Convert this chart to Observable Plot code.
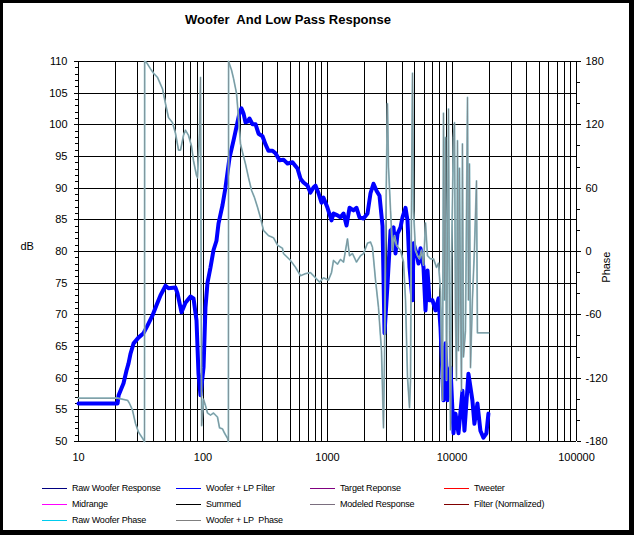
<!DOCTYPE html>
<html>
<head>
<meta charset="utf-8">
<script src="https://cdn.jsdelivr.net/npm/d3@7"></script>
<script src="https://cdn.jsdelivr.net/npm/@observablehq/plot@0.6"></script>
<style>
  body { margin: 0; background: #fff; font-family: "Liberation Sans", Arial, sans-serif; }
  #frame { position: absolute; left: 0; top: 0; width: 634px; height: 535px; box-sizing: border-box;
           border-style: solid; border-color: #000; border-width: 3px 5px 5px 3px; pointer-events: none; }
  #title { position: absolute; left: 0; top: 12px; width: 576px; text-align: center; font-weight: bold;
           font-size: 13px; line-height: 16px; white-space: pre; color: #000; }
  #chart { position: absolute; left: 0; top: 40px; }
  .leg-line { position: absolute; height: 1px; width: 25px; }
  .leg-text { position: absolute; font-size: 9px; line-height: 10px; color: #000; white-space: pre; letter-spacing: -0.2px; }
</style>
</head>
<body>
<div id="title"></div>
<div id="chart"></div>
<div id="legend"></div>
<div id="frame"></div>
<script>
// ---- Data ----
const titleText = "Woofer  And Low Pass Response";

// Woofer + LP Filter response: frequency (Hz) and level (dB)
const respFreq = [10, 20.6, 21, 23, 24.3, 25.2, 26.2, 27.7, 30.3, 33.3, 35.8, 39.3, 42.3, 45.6, 50, 52.8, 60.1, 62.4, 67.2, 72.3,
  79.4, 83.9, 88.7, 92, 95.5, 101, 104.7, 108.7, 114.9, 121.4, 128.3, 133.2, 143.4, 151.6, 163.3, 175.8, 189.3, 196.4, 203.8, 211.5,
  219.4, 227.7, 236.2, 249.8, 264.1, 279.3, 300.6, 317.8, 335.9, 361.6, 382.3, 411.4, 443.1, 477.2, 523.3, 574.1, 607, 641.7, 690.9, 730,
  772, 801, 847, 895, 929, 1000, 1077, 1117, 1203, 1271, 1345, 1422, 1503, 1618, 1710, 1808, 1946, 2096, 2215, 2341,
  2476, 2617, 2767, 2817, 2871, 3035, 3208, 3391, 3518, 3650, 3858, 4003, 4233, 4392, 4557, 4817, 4908, 5188, 5383, 5585,
  5904, 6126, 6356, 6595, 6971, 7369, 7790, 8082, 8543, 8865, 9198, 9723, 10278, 10664, 11272, 12133, 12590, 13552, 14587, 15136,
  16000, 16913, 17878, 18898, 19609];
const respDb = [56, 56, 57.3, 59.2, 61.2, 62.3, 63.9, 65.5, 66.4, 67.1, 68.3, 69.9, 71.5, 73.1, 74.6, 74.2, 74.3, 73.4, 70.4, 71.9,
  72.9, 72.6, 69.1, 60.7, 57.3, 61.7, 71.2, 75.1, 77.5, 80.2, 81.7, 84.4, 87.3, 90.1, 94.8, 97.5, 100.4, 101.9, 102.6, 101.8,
  100.4, 100.5, 101, 100.1, 100.1, 98.6, 98.2, 96.9, 95.9, 95.9, 95.5, 94.4, 94.5, 93.9, 94.1, 93.1, 91.5, 90.9, 90.4, 89.3,
  90.1, 90.4, 89.2, 87.7, 88.5, 86.9, 84.9, 86, 85.7, 85.4, 86, 84.1, 86.9, 86.5, 86.9, 85.4, 85.2, 86, 89.2, 90.7,
  89.6, 88.8, 84, 76, 67.1, 74.9, 83.3, 83.8, 79.7, 82.8, 83.8, 85.4, 86.9, 84.9, 77.5, 72.3, 81.3, 79.7, 78.1, 80.5,
  77.5, 70.7, 77, 72.3, 72.3, 70.7, 72.6, 68, 56.5, 65.5, 56.5, 61.7, 51.3, 54.4, 51.3, 58, 51.7, 60.7, 56.5, 52.8,
  56, 51.7, 50.6, 51.3, 54.4];

// Woofer + LP Phase: frequency (Hz) and phase (degrees)
const phaseFreq = [10, 20.6, 24.8, 25.7, 27.1, 28.7, 30.3, 32.7, 33.9, 34.0, 35.2, 37.9, 40, 43.1, 47.3, 50, 52.8, 56.9, 60.1, 63.6,
  66, 69.7, 72.3, 76.5, 80.8, 83.9, 88.7, 90.3, 93.7, 95.5, 97.5, 101, 104.7, 108.7, 114.9, 121.4, 130.8, 135.7, 143.4, 148.8,
  157.3, 160, 160.5, 169.4, 175.8, 185.8, 192.8, 200.1, 207.6, 219.4, 232, 245.3, 259.3, 274.1, 289.6, 306.1, 335.9, 368.5, 396.7, 435.1,
  443.3, 504.5, 553.4, 607, 665.8, 730, 801, 862.5, 929, 1019, 1077, 1117, 1203, 1271, 1345, 1447, 1502, 1588, 1710, 1842,
  1946, 2096, 2215, 2298, 2430, 2568, 2715, 2817, 2871, 2923, 2977, 3033, 3090, 3208, 3327, 3453, 3583, 3858, 4079, 4233,
  4392, 4557, 4642, 4729, 4817, 4908, 5091, 5283, 5483, 5689, 5904, 6126, 6356, 6718, 7103, 7510, 7790, 8082, 8389, 8543,
  8707, 8865, 9033, 9374, 9548, 9723, 9908, 10278, 10474, 10664, 10867, 11072, 11272, 11488, 11703, 11921, 12133, 12371, 12834, 13320,
  13552, 13822, 14079, 14587, 15136, 15735, 16000, 19645];
const phaseDeg = [-139, -139, -141, -144, -150, -163, -171, -177, -180, 180, 179, 173, 169, 165, 154, 140, 127, 122, 112, 96,
  96, 110, 115, 110, 100, 86, 72, 70, 112, 165, -165, -140, -146, -153, -155, -153, -157, -167, -168, -172,
  -177, -180, 180, 172, 164, 150, 127, 102, 94, 83, 70, 58, 51, 42, 32, 20, 15, 13, 6, 3,
  -2, -8.5, -15, -23, -21, -20, -25, -29, -25, -27, -20, -8.5, -12, -7.5, -10, 12, -4, -2, -10, -4,
  -2, 8, 9, 4, -27, -53, -94, -167, -100, -1, 77, 140, 80, 39, 1, 15, 6, 1, -10, -46,
  -119, -148, -122, 48, 169, 39, 1, -4, -7, 1, -13, 27, -4, -7, -7, -15, -11, -37, -141, 131,
  -46, 108, -122, 135, -75, -169, -9, 108, 122, -56, -122, 105, -94, 79, -46, -132, 102, -100, -75, 146,
  -46, 83, -110, -46, 1, 67, -77, -77];

// Axis ticks and labels
const dbMajor = [50, 55, 60, 65, 70, 75, 80, 85, 90, 95, 100, 105, 110];
const dbMinor = d3.range(50, 111, 1);
const phaseMajor = [-180, -120, -60, 0, 60, 120, 180];
const phaseMinor = d3.range(-180, 181, 20);
const decadeTicks = [10, 100, 1000, 10000, 100000];
const gridMultipliers = [1, 2, 3, 4, 5, 6, 7, 8, 9];

// Legend
const legendLabels = ["Raw Woofer Response", "Woofer + LP Filter", "Target Reponse", "Tweeter",
  "Midrange", "Summed", "Modeled Response", "Filter (Normalized)",
  "Raw Woofer Phase", "Woofer + LP  Phase"];
const legendColors = ["#000080", "#0000ff", "#800080", "#ff0000",
  "#ff00ff", "#000000", "#7a6e7e", "#800000",
  "#00ccee", "#808080"];

// ---- Build ----
const phaseToDb = p => 50 + (p + 180) / 6;   // map -180..180 onto the 50..110 dB scale
const dbToPhase = v => Math.round((v - 50) * 6 - 180);

const resp = respFreq.map((f, i) => ({f, v: respDb[i]}));
const phase = phaseFreq.map((f, i) => ({f, v: phaseToDb(phaseDeg[i])}));
const gridFreqs = decadeTicks.slice(0, 4).flatMap(d => gridMultipliers.map(m => d * m)).concat([100000]);

document.getElementById("title").textContent = titleText;

const crisp = {shapeRendering: "crispEdges"};
const chart = Plot.plot({
  width: 634,
  height: 431,
  marginLeft: 78,
  marginRight: 58,
  marginTop: 21,
  marginBottom: 30,
  style: {fontFamily: "'Liberation Sans', Arial, sans-serif", fontSize: "11px", color: "#000", background: "#fff", overflow: "visible"},
  x: {type: "log", domain: [10, 100000]},
  y: {domain: [50, 110]},
  marks: [
    Plot.ruleX(gridFreqs, {stroke: "#000", strokeWidth: 1, ...crisp}),
    Plot.ruleY(dbMajor, {stroke: "#000", strokeWidth: 1, ...crisp}),
    Plot.axisX({ticks: decadeTicks, tickFormat: d => String(d), tickSize: 0, tickPadding: 12, label: null, fontSize: 11}),
    Plot.axisY({ticks: dbMajor, tickSize: 4, tickPadding: 7, label: null, fontSize: 11, ...crisp}),
    Plot.axisY({ticks: dbMinor, tickSize: 3, text: null, label: null, ...crisp}),
    Plot.axisY({anchor: "right", ticks: phaseMajor.map(phaseToDb), tickFormat: dbToPhase, tickSize: 4, tickPadding: 5, label: null, fontSize: 11, ...crisp}),
    Plot.axisY({anchor: "right", ticks: phaseMinor.map(phaseToDb), tickSize: 3, text: null, label: null, ...crisp}),
    Plot.text(["dB"], {text: d => d, frameAnchor: "left", dx: -58, dy: -5, fontSize: 11}),
    Plot.text(["Phase"], {text: d => d, frameAnchor: "right", dx: 30, dy: 0, rotate: -90, fontSize: 11}),
    Plot.line(resp, {x: "f", y: "v", stroke: "#0000ff", strokeWidth: 4, strokeLinejoin: "round"}),
    Plot.line(phase, {x: "f", y: "v", stroke: "#8ec2cc", strokeWidth: 1.8}),
    Plot.line(phase, {x: "f", y: "v", stroke: "#7b878b", strokeWidth: 0.8})
  ]
});
document.getElementById("chart").appendChild(chart);

// Legend (HTML, below the plot)
const legend = document.getElementById("legend");
const colLine = [42, 176, 310, 444];
const rowY = [488, 504, 520];
legendLabels.forEach((lab, i) => {
  const c = i % 4, r = Math.floor(i / 4);
  const ln = document.createElement("div");
  ln.className = "leg-line";
  ln.style.left = colLine[c] + "px";
  ln.style.top = rowY[r] + "px";
  ln.style.background = legendColors[i];
  legend.appendChild(ln);
  const tx = document.createElement("div");
  tx.className = "leg-text";
  tx.style.left = (colLine[c] + 30) + "px";
  tx.style.top = (rowY[r] - 5) + "px";
  tx.textContent = lab;
  legend.appendChild(tx);
});
</script>
</body>
</html>
